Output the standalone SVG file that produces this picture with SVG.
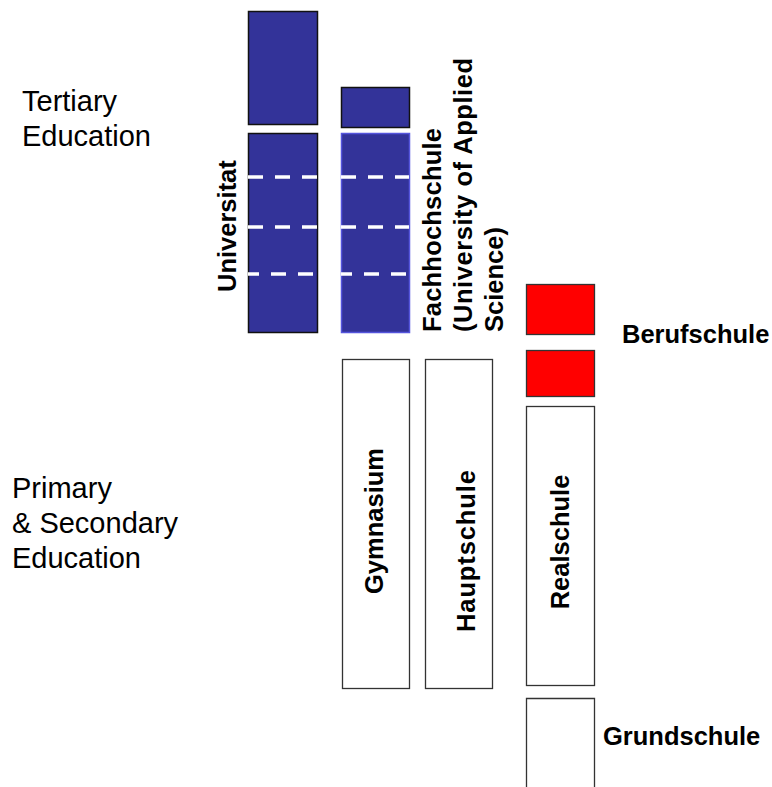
<svg xmlns="http://www.w3.org/2000/svg" width="772" height="787" viewBox="0 0 772 787">
  <style>
    .lvl { font-family: "Liberation Sans", Arial, sans-serif; font-size: 29px; fill: #000; }
    .lbl { font-family: "Liberation Sans", Arial, sans-serif; font-size: 25.5px; font-weight: bold; fill: #000; }
    .uni { fill: #333399; stroke: #111; stroke-width: 1.5; }
    .fh  { fill: #333399; stroke: #5555dd; stroke-width: 1.5; }
    .sec { fill: #fff; stroke: #333; stroke-width: 1.3; }
    .voc { fill: #ff0000; stroke: #333; stroke-width: 1.3; }
    .dash { stroke: #fff; stroke-width: 3.5; stroke-dasharray: 15 12; fill: none; }
  </style>
  <rect width="772" height="787" fill="#fff"/>

  <!-- level headings -->
  <g id="tertiary">
    <text class="lvl" x="22" y="111">Tertiary</text>
    <text class="lvl" x="22" y="146">Education</text>
  </g>
  <g id="secondary">
    <text class="lvl" x="12" y="498">Primary</text>
    <text class="lvl" x="12" y="533">&amp; Secondary</text>
    <text class="lvl" x="12" y="568">Education</text>
  </g>

  <!-- Universitat column -->
  <g id="universitat">
    <rect class="uni" x="248.5" y="11.5" width="69" height="113"/>
    <rect class="uni" x="248.5" y="133.5" width="69" height="199"/>
    <line class="dash" x1="248" y1="177" x2="318" y2="177"/>
    <line class="dash" x1="248" y1="227" x2="318" y2="227"/>
    <line class="dash" x1="248" y1="274" x2="318" y2="274" stroke-dashoffset="4"/>
    <text class="lbl" transform="translate(236,292) rotate(-90)">Universitat</text>
  </g>

  <!-- Fachhochschule column -->
  <g id="fachhochschule">
    <rect class="uni" x="341.5" y="87.5" width="68" height="40"/>
    <rect class="fh" x="341.5" y="133.5" width="68" height="199"/>
    <line class="dash" x1="341" y1="177" x2="409" y2="177"/>
    <line class="dash" x1="341" y1="227" x2="409" y2="227"/>
    <line class="dash" x1="341" y1="274" x2="409" y2="274" stroke-dashoffset="4"/>
    <g transform="translate(0,332) rotate(-90)">
      <text class="lbl" x="0" y="441" textLength="204">Fachhochschule</text>
      <text class="lbl" x="0" y="472" textLength="274">(University of Applied</text>
      <text class="lbl" x="0" y="503">Science)</text>
    </g>
  </g>

  <!-- secondary schools -->
  <g id="gymnasium">
    <rect class="sec" x="342.5" y="359.5" width="67" height="329"/>
    <text class="lbl" text-anchor="middle" transform="translate(383,521) rotate(-90)">Gymnasium</text>
  </g>
  <g id="hauptschule">
    <rect class="sec" x="425.5" y="359.5" width="67" height="329"/>
    <text class="lbl" text-anchor="middle" textLength="162" transform="translate(475,551) rotate(-90)">Hauptschule</text>
  </g>
  <g id="realschule">
    <rect class="sec" x="526.5" y="406.5" width="68" height="279"/>
    <text class="lbl" text-anchor="middle" transform="translate(569,542) rotate(-90)">Realschule</text>
  </g>

  <!-- vocational school -->
  <g id="berufschule">
    <rect class="voc" x="526.5" y="284.5" width="68" height="50"/>
    <rect class="voc" x="526.5" y="350.5" width="68" height="46"/>
    <text class="lbl" x="622" y="343">Berufschule</text>
  </g>

  <!-- primary school -->
  <g id="grundschule">
    <path class="sec" d="M526.5,790 V698.5 H594.5 V790"/>
    <text class="lbl" x="603" y="745">Grundschule</text>
  </g>

  <g id="connectors"/>
</svg>
